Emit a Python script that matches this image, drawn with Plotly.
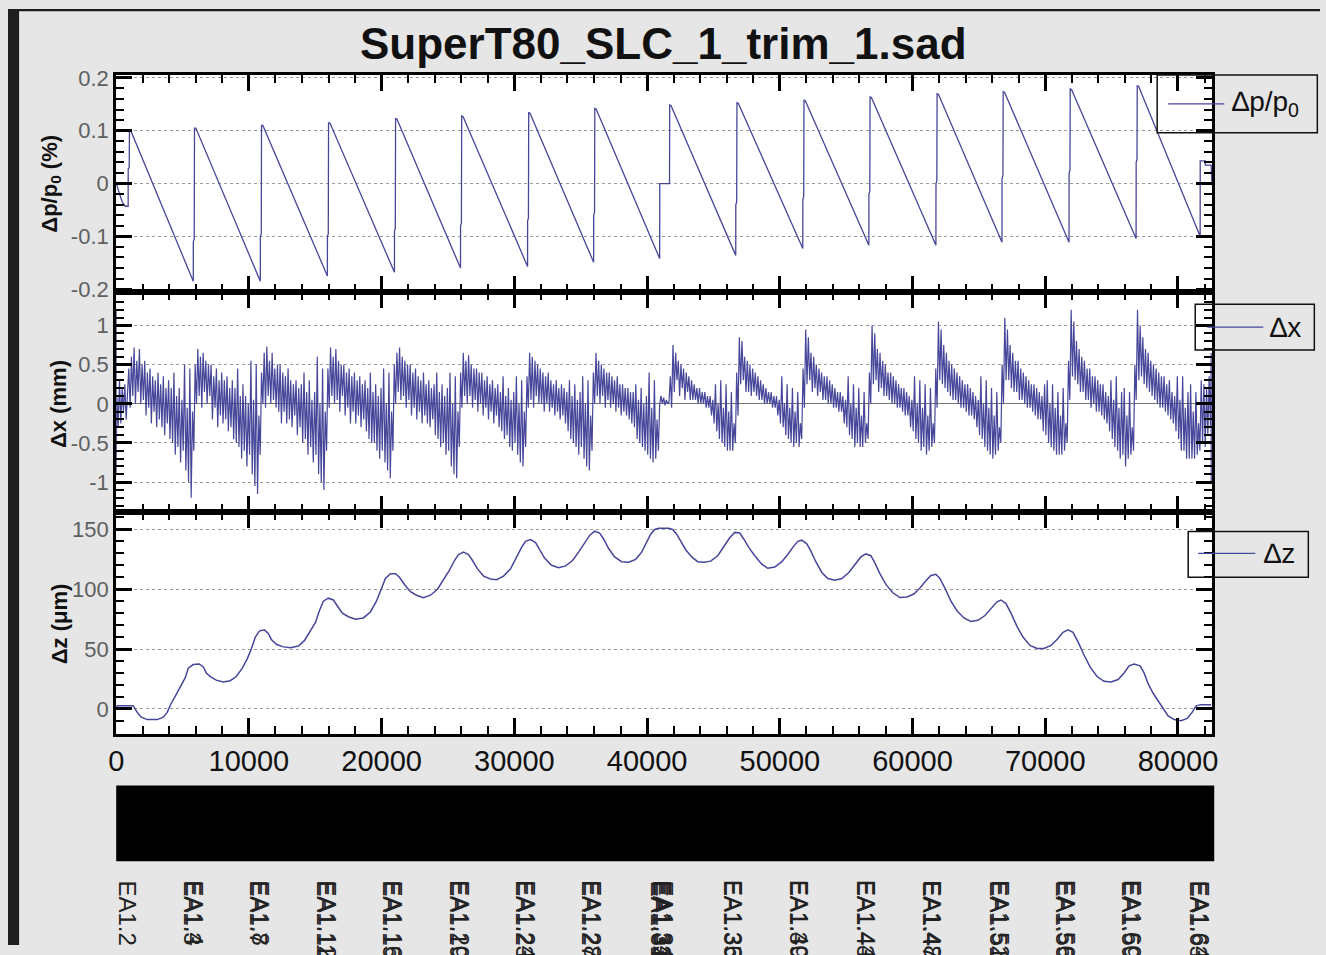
import plotly.graph_objects as go

W, H = 1326, 955
# the photographed page shows the figure after an 8 px page margin, slightly scaled;
# positions below are given in the reference picture's pixels and converted here
PAD, SX, SY = 8, 0.9885, 0.9834
TITLE = "SuperT80_SLC_1_trim_1.sad"

# ---------------- data ----------------
# Δp/p0 (%) vertices: s [m], value
DP_S = [0, 230, 450, 680, 900, 905, 980, 1000, 1100,
        5807, 5812, 5880, 5900, 6000,
        10859, 10864, 10930, 10950, 11050,
        15912, 15917, 15980, 16000, 16100,
        20964, 20969, 21030, 21050, 21150,
        25941, 25946, 26010, 26030, 26130,
        30994, 30999, 31060, 31080, 31180,
        35971, 35976, 36040, 36060, 36160,
        40948, 40953, 41690, 41702, 41800,
        46679, 46684, 46750, 46770, 46870,
        51731, 51736, 51800, 51820, 51920,
        56708, 56713, 56780, 56800, 56900,
        61761, 61766, 61830, 61850, 61950,
        66738, 66743, 66810, 66830, 66930,
        71790, 71795, 71860, 71880, 71980,
        76843, 76848, 76910, 76930, 77030,
        81669, 81674, 82050, 82060, 82500, 82560]
DP_V = [0, -0.02, -0.035, -0.043, -0.043, 0.028, 0.03, 0.10, 0.10,
        -0.185, -0.11, -0.105, 0.105, 0.105,
        -0.185, -0.10, -0.095, 0.110, 0.110,
        -0.175, -0.10, -0.095, 0.115, 0.115,
        -0.168, -0.09, -0.085, 0.123, 0.122,
        -0.160, -0.08, -0.075, 0.128, 0.127,
        -0.157, -0.07, -0.065, 0.134, 0.133,
        -0.149, -0.06, -0.055, 0.142, 0.141,
        -0.142, 0.0, 0.0, 0.149, 0.148,
        -0.136, -0.04, -0.035, 0.153, 0.152,
        -0.123, -0.03, -0.025, 0.158, 0.157,
        -0.117, -0.02, -0.015, 0.164, 0.163,
        -0.117, 0.0, 0.005, 0.170, 0.169,
        -0.111, 0.01, 0.015, 0.174, 0.173,
        -0.111, 0.02, 0.025, 0.179, 0.178,
        -0.104, 0.04, 0.045, 0.185, 0.184,
        -0.100, 0.043, 0.043, 0.035, 0.035, 0.0]

# Δz (μm) vertices: s [m], value
DZ_S = [0, 75, 1282, 1584, 1885, 2338, 3092, 3544, 3846, 4072, 4525, 4902, 5203, 5430,
        5807, 6259, 6561, 6787, 7089, 7541, 8069, 8597, 9049, 9502, 9879, 10180, 10482,
        10784, 11161, 11462, 11689, 12066, 12518, 13121, 13725, 14177, 14630, 15007,
        15308, 15610, 15987, 16364, 16666, 17043, 17495, 18023, 18626, 19154, 19607,
        19984, 20285, 20662, 21039, 21341, 21718, 22171, 22623, 23151, 23679, 24207,
        24659, 25112, 25489, 25790, 26167, 26544, 26846, 27223, 27675, 28203, 28656,
        29184, 29712, 30164, 30541, 30843, 31220, 31597, 31898, 32275, 32803, 33331,
        33859, 34387, 34839, 35292, 35669, 36046, 36423, 36725, 37102, 37554, 38082,
        38610, 39138, 39590, 39967, 40269, 40571, 40872, 41626, 41928, 42230, 42531,
        42908, 43361, 43813, 44266, 44794, 45321, 45774, 46226, 46603, 46980, 47282,
        47659, 48112, 48639, 49092, 49620, 50148, 50600, 50977, 51354, 51656, 52033,
        52335, 52712, 53164, 53617, 54144, 54672, 55200, 55653, 56105, 56482, 56859,
        57161, 57538, 57990, 58518, 59046, 59574, 60102, 60554, 61007, 61384, 61761,
        62062, 62439, 62892, 63344, 63872, 64400, 64928, 65456, 65908, 66361, 66662,
        67039, 67417, 67869, 68321, 68849, 69377, 69905, 70433, 70885, 71338, 71715,
        72092, 72469, 72921, 73374, 73902, 74430, 74958, 75485, 75938, 76315, 76692,
        77144, 77446, 77748, 78125, 78502, 78879, 79256, 79708, 80236, 80689, 81066,
        81367, 81744, 82499]
DZ_V = [0, 2.5, 2.5, -3, -7, -9, -9, -7, -3, 3, 12, 20, 26, 34,
        37, 37.5, 35, 30, 27, 24, 22.5, 23.5, 27, 34, 42, 50, 60,
        65, 66, 63, 58, 54, 52, 51, 52.5, 57, 65, 72,
        82, 90, 92.5, 91, 86, 80, 77, 75, 76, 81, 90,
        100, 109, 113, 113, 110, 104, 98, 95, 93, 95, 100,
        108, 116, 124, 129, 131, 129, 124, 117, 111, 108.5, 108,
        111, 117, 127, 135, 140, 141.5, 139, 133, 126, 120, 118,
        119.5, 124, 131, 139, 145, 148.5, 147, 142, 134, 127, 123,
        122.5, 125, 131, 139, 146, 150, 151, 151, 150, 146, 140,
        133, 127, 123, 122.5, 123.5, 128, 135, 143, 147.5, 147, 142,
        135, 128, 121, 117.5, 118.5, 123, 129, 135, 140, 141, 138,
        132, 123, 114, 109, 107.5, 109, 114, 121, 127, 129.5, 128,
        122, 113, 104, 97, 93, 93.5, 96, 101, 107, 111.5, 112.5,
        109, 101, 90, 82, 76, 73, 74, 78, 84, 89.5, 91,
        88, 80, 69, 60, 53, 50.5, 50.5, 53, 58, 64, 66,
        64, 56, 45, 35, 27, 23, 22.5, 24.5, 30, 36, 37.5,
        36, 30, 21, 13, 7, 0, -6, -9, -10, -8, -3,
        2.5, 3.5, 3.5]

# Δx (mm): samples every DX_STEP metres from DX_START, listed cell by cell
DX_START = 50
DX_STEP = 100
DX_EDGE_LEFT = [1.2, -0.9]     # values drawn at s = 0
DX_EDGE_RIGHT = [0.65, -1.0]   # values drawn at the ring end
DX_END_S = 82500
DX_PRE = [0.1, -0.3, 0.3, -0.25, 0.2, -0.1, 0.25, -0.2, 0.1]
DX_CELLS = [
    [0.45, -0.05, 0.6, 0.1, 0.72, 0.0, 0.55, 0.15, 0.7, 0.0, 0.5, 0.05,
     0.55, -0.15, 0.4, -0.05, 0.45, -0.25, 0.35, -0.1, 0.3, -0.3, 0.4, -0.2, 0.25, -0.3, 0.35, -0.4, 0.2, -0.25,
     0.3, -0.45, 0.2, -0.5, 0.4, -0.65, 0.1, -0.55, 0.2, -0.75, 0.05, -0.6,
     0.5, -0.85, -0.05, -1.0, 0.45, -1.2, -0.1, -0.6],
    [0.5, 0.0, 0.7, 0.1, 0.6, -0.05, 0.65, 0.15, 0.55, 0.0, 0.5, 0.1,
     0.5, -0.2, 0.35, -0.05, 0.45, -0.3, 0.3, -0.15, 0.4, -0.25, 0.3, -0.2, 0.35, -0.35, 0.2, -0.3, 0.3, -0.45,
     0.2, -0.5, 0.45, -0.55, 0.1, -0.7, 0.25, -0.6, 0.1, -0.8, 0.0, -0.65,
     0.55, -0.9, 0.05, -1.05, 0.5, -1.15, -0.15, -0.65],
    [0.4, 0.0, 0.65, -0.05, 0.73, 0.1, 0.55, 0.0, 0.65, 0.05, 0.45, -0.05,
     0.5, -0.1, 0.5, -0.25, 0.4, -0.1, 0.35, -0.25, 0.45, -0.2, 0.3, -0.3, 0.25, -0.15, 0.3, -0.4, 0.2, -0.3,
     0.25, -0.5, 0.4, -0.45, 0.15, -0.65, 0.3, -0.55, 0.05, -0.75, 0.15, -0.65,
     0.6, -0.9, 0.0, -1.0, 0.45, -1.1, -0.1, -0.6],
    [0.45, -0.05, 0.72, 0.1, 0.6, 0.0, 0.7, 0.05, 0.55, -0.1, 0.5, 0.1,
     0.5, -0.15, 0.4, -0.05, 0.45, -0.25, 0.35, -0.1, 0.4, -0.25, 0.3, -0.15, 0.35, -0.3, 0.25, -0.2, 0.3, -0.35,
     0.2, -0.45, 0.4, -0.5, 0.15, -0.5, 0.25, -0.6, 0.1, -0.7, 0.2, -0.6,
     0.45, -0.75, 0.0, -0.85, 0.4, -0.95, -0.1, -0.6],
    [0.5, 0.0, 0.65, 0.15, 0.72, 0.05, 0.6, 0.1, 0.55, -0.05, 0.5, 0.05,
     0.5, -0.15, 0.4, -0.05, 0.45, -0.2, 0.35, -0.1, 0.3, -0.25, 0.4, -0.15, 0.25, -0.25, 0.3, -0.3, 0.2, -0.2,
     0.25, -0.4, 0.4, -0.45, 0.15, -0.55, 0.25, -0.5, 0.1, -0.65, 0.2, -0.6,
     0.4, -0.8, 0.0, -0.9, 0.35, -0.95, -0.1, -0.55],
    [0.4, -0.05, 0.65, 0.1, 0.55, 0.0, 0.62, 0.1, 0.5, -0.05, 0.45, 0.05,
     0.45, -0.1, 0.4, 0.0, 0.4, -0.15, 0.3, -0.05, 0.35, -0.2, 0.25, -0.1, 0.3, -0.25, 0.2, -0.15, 0.25, -0.3,
     0.15, -0.35, 0.35, -0.45, 0.1, -0.4, 0.2, -0.55, 0.05, -0.6, 0.15, -0.5,
     0.35, -0.65, 0.0, -0.75, 0.3, -0.8, -0.1, -0.55],
    [0.35, -0.05, 0.65, 0.05, 0.6, -0.05, 0.55, 0.1, 0.5, 0.0, 0.45, 0.0,
     0.4, -0.1, 0.35, 0.0, 0.4, -0.1, 0.3, -0.05, 0.25, -0.15, 0.3, -0.1, 0.2, -0.2, 0.25, -0.15, 0.2, -0.25,
     0.15, -0.35, 0.3, -0.45, 0.1, -0.5, 0.25, -0.55, 0.05, -0.65, 0.15, -0.55,
     0.35, -0.7, 0.0, -0.8, 0.3, -0.85, -0.15, -0.6],
    [0.4, 0.0, 0.65, 0.1, 0.55, 0.0, 0.5, 0.1, 0.45, -0.05, 0.4, 0.05,
     0.4, -0.05, 0.35, 0.0, 0.3, -0.1, 0.35, -0.05, 0.25, -0.15, 0.25, -0.1, 0.2, -0.15, 0.2, -0.2, 0.15, -0.25,
     0.15, -0.3, 0.25, -0.45, 0.05, -0.5, 0.2, -0.55, 0.0, -0.6, 0.1, -0.65,
     0.4, -0.7, -0.05, -0.75, 0.3, -0.7, -0.2, -0.6],
    [0.0, 0.1, 0.0, 0.08, -0.02, 0.05, 0.0, 0.02],
    [0.35, -0.05, 0.75, 0.15, 0.65, 0.3, 0.55, 0.1, 0.5, 0.2, 0.45, 0.05,
     0.4, 0.15, 0.35, 0.05, 0.3, 0.05, 0.25, 0.05, 0.2, 0.0, 0.2, 0.0, 0.15, 0.0, 0.15, -0.05, 0.1, -0.05,
     0.1, -0.15, 0.05, -0.25, 0.25, -0.35, 0.0, -0.45, 0.3, -0.5, -0.05, -0.55,
     0.25, -0.6, -0.1, -0.6, 0.15, -0.6, -0.25, -0.5],
    [0.4, -0.15, 0.85, 0.25, 0.8, 0.3, 0.6, 0.15, 0.55, 0.15, 0.5, 0.1,
     0.45, 0.15, 0.4, 0.1, 0.35, 0.05, 0.3, 0.05, 0.25, 0.0, 0.2, 0.0, 0.15, 0.0, 0.15, -0.05, 0.1, -0.05,
     0.1, -0.15, 0.05, -0.25, 0.35, -0.3, 0.0, -0.4, 0.25, -0.45, -0.05, -0.5,
     0.2, -0.55, -0.1, -0.5, 0.15, -0.55, -0.25, -0.45],
    [0.45, -0.05, 0.95, 0.25, 0.85, 0.3, 0.65, 0.15, 0.6, 0.2, 0.5, 0.1,
     0.45, 0.15, 0.4, 0.05, 0.35, 0.05, 0.35, 0.0, 0.3, 0.0, 0.25, -0.05, 0.2, -0.05, 0.15, -0.1, 0.15, -0.1,
     0.1, -0.25, 0.05, -0.3, 0.35, -0.4, 0.0, -0.45, 0.25, -0.55, -0.05, -0.5,
     0.2, -0.55, -0.15, -0.55, 0.15, -0.5, -0.25, -0.45],
    [0.4, 0.0, 1.0, 0.25, 0.9, 0.3, 0.7, 0.15, 0.65, 0.2, 0.55, 0.1,
     0.5, 0.1, 0.4, 0.05, 0.4, 0.0, 0.35, 0.0, 0.3, -0.05, 0.25, -0.05, 0.2, -0.1, 0.2, -0.15, 0.15, -0.15,
     0.1, -0.3, 0.05, -0.35, 0.35, -0.45, 0.0, -0.5, 0.3, -0.6, -0.05, -0.55,
     0.25, -0.65, -0.15, -0.6, 0.2, -0.55, -0.25, -0.5],
    [0.45, -0.05, 1.05, 0.3, 0.95, 0.25, 0.75, 0.2, 0.65, 0.15, 0.55, 0.1,
     0.5, 0.05, 0.45, 0.05, 0.4, 0.0, 0.35, -0.05, 0.3, -0.05, 0.25, -0.1, 0.25, -0.15, 0.2, -0.15, 0.15, -0.2,
     0.1, -0.3, 0.05, -0.4, 0.35, -0.45, 0.0, -0.55, 0.3, -0.6, -0.05, -0.65,
     0.2, -0.7, -0.15, -0.65, 0.15, -0.6, -0.3, -0.5],
    [0.5, 0.0, 1.1, 0.3, 0.95, 0.3, 0.75, 0.2, 0.65, 0.15, 0.55, 0.15,
     0.55, 0.05, 0.45, 0.05, 0.4, 0.0, 0.35, -0.05, 0.3, -0.05, 0.25, -0.1, 0.25, -0.15, 0.2, -0.2, 0.15, -0.2,
     0.1, -0.35, 0.25, -0.4, 0.3, -0.5, 0.0, -0.55, 0.25, -0.6, -0.05, -0.65,
     0.15, -0.65, -0.15, -0.65, 0.2, -0.6, -0.25, -0.5],
    [0.55, 0.05, 1.2, 0.35, 1.05, 0.3, 0.8, 0.25, 0.7, 0.15, 0.6, 0.15,
     0.55, 0.05, 0.45, 0.05, 0.45, -0.05, 0.35, 0.0, 0.35, -0.1, 0.3, -0.1, 0.25, -0.15, 0.25, -0.2, 0.15, -0.25,
     0.1, -0.35, 0.3, -0.45, 0.05, -0.55, 0.35, -0.6, -0.05, -0.7, 0.15, -0.65,
     0.2, -0.8, -0.15, -0.7, 0.15, -0.65, -0.3, -0.6],
    [0.5, 0.05, 1.2, 0.3, 1.0, 0.35, 0.85, 0.25, 0.7, 0.2, 0.65, 0.15,
     0.55, 0.1, 0.5, 0.05, 0.45, 0.0, 0.4, -0.05, 0.35, -0.05, 0.35, -0.1, 0.25, -0.15, 0.3, -0.2, 0.15, -0.25,
     0.1, -0.35, 0.35, -0.45, 0.05, -0.6, 0.35, -0.6, -0.05, -0.7, 0.15, -0.7,
     0.25, -0.7, -0.1, -0.7, 0.15, -0.65, -0.25, -0.6],
]
DX_TAIL = [0.3, -0.5, 0.25, -0.55, 0.2, -0.4, 0.35, -0.3]

# axes
X_RANGE = [0, 82580]
X_TICKS = [0, 10000, 20000, 30000, 40000, 50000, 60000, 70000, 80000]
X_TICK_TEXT = ["0", "10000", "20000", "30000", "40000", "50000", "60000", "70000", "80000"]
Y1_RANGE = [-0.2057, 0.2057]
Y1_TICKS = [-0.2, -0.1, 0, 0.1, 0.2]
Y1_TEXT = ["-0.2", "-0.1", "0", "0.1", "0.2"]
Y2_RANGE = [-1.387, 1.425]
Y2_TICKS = [-1, -0.5, 0, 0.5, 1]
Y2_TEXT = ["-1", "-0.5", "0", "0.5", "1"]
Y3_RANGE = [-20.8, 164.2]
Y3_TICKS = [0, 50, 100, 150]
Y3_TEXT = ["0", "50", "100", "150"]

# lattice element labels (s [m] of each label, names stacked at that place)
LATTICE_S = [830, 5807, 10784, 15836, 20813, 25866, 30843, 35820, 41098,
             46453, 51430, 56482, 61459, 66512, 71489, 76466, 81594]
LATTICE_NAMES = [["EA1.2"], ["EA1.3", "EA1.4"], ["EA1.7", "EA1.8"], ["EA1.11", "EA1.12"],
                 ["EA1.15", "EA1.16"], ["EA1.19", "EA1.20"], ["EA1.23", "EA1.24"],
                 ["EA1.27", "EA1.28"], ["EA1.31", "EA1.32", "EA1.33", "EA1.34"],
                 ["EA1.35", "EA1.36"], ["EA1.39", "EA1.40"], ["EA1.43", "EA1.44"],
                 ["EA1.47", "EA1.48"], ["EA1.51", "EA1.52"], ["EA1.55", "EA1.56"],
                 ["EA1.59", "EA1.60"], ["EA1.63", "EA1.64"]]

# ---------------- figure ----------------
LINE = "#46469a"
FONT = "Liberation Sans, Arial, sans-serif"


def fx(px):
    # reference-picture pixel -> paper fraction
    return (px / SX - PAD) / W


def fy(py):
    return 1 - (py / SY - PAD) / H


dx_vals = list(DX_PRE)
for cell in DX_CELLS:
    dx_vals += cell
dx_vals += DX_TAIL
dx_s = [0, 0] + [DX_START + DX_STEP * k for k in range(len(dx_vals))] + [DX_END_S, DX_END_S]
dx_v = list(DX_EDGE_LEFT) + dx_vals + list(DX_EDGE_RIGHT)

fig = go.Figure()
fig.add_trace(go.Scatter(x=DP_S, y=DP_V, mode="lines", line=dict(color=LINE, width=1.3),
                         xaxis="x", yaxis="y", name="∆p/p0", showlegend=False))
fig.add_trace(go.Scatter(x=dx_s, y=dx_v, mode="lines", line=dict(color=LINE, width=1.2),
                         xaxis="x2", yaxis="y2", name="∆x", showlegend=False))
fig.add_trace(go.Scatter(x=DZ_S, y=DZ_V, mode="lines", line=dict(color=LINE, width=1.5),
                         xaxis="x3", yaxis="y3", name="∆z", showlegend=False))

xd = [fx(116), fx(1211)]
panels = [(74, 292), (292, 513), (513, 735)]


def xaxis_cfg(anchor, labels):
    return dict(domain=xd, anchor=anchor, range=X_RANGE, tickmode="array",
                tickvals=X_TICKS, ticktext=X_TICK_TEXT, showticklabels=labels,
                ticks="inside", ticklen=16, tickwidth=2.5, tickcolor="black",
                minor=dict(ticks="inside", ticklen=8, tickwidth=2, tickcolor="black",
                           tickmode="linear", tick0=0, dtick=2000, showgrid=False),
                showline=True, linewidth=3, linecolor="black", mirror="allticks",
                showgrid=False, zeroline=False,
                tickfont=dict(size=29, color="#111111", family=FONT))


def yaxis_cfg(anchor, pnl, rng, tv, tt, mdt, zl=False):
    return dict(domain=[fy(pnl[1]), fy(pnl[0])], anchor=anchor, range=rng,
                tickmode="array", tickvals=tv, ticktext=tt,
                ticks="inside", ticklen=16, tickwidth=2.5, tickcolor="black",
                minor=dict(ticks="inside", ticklen=8, tickwidth=2, tickcolor="black",
                           tickmode="linear", tick0=0, dtick=mdt, showgrid=False),
                showline=True, linewidth=3, linecolor="black", mirror="allticks",
                showgrid=True, gridcolor="#9a9a9a", griddash="dot", gridwidth=1,
                zeroline=zl, zerolinecolor="#777777", zerolinewidth=1,
                tickfont=dict(size=22, color="#606060", family=FONT))


fig.update_layout(
    width=W, height=H, autosize=False,
    margin=dict(l=0, r=0, t=0, b=0),
    paper_bgcolor="#e6e6e6", plot_bgcolor="white",
    font=dict(family=FONT),
    showlegend=False,
    xaxis=xaxis_cfg("y", False),
    xaxis2=xaxis_cfg("y2", False),
    xaxis3=xaxis_cfg("y3", True),
    yaxis=yaxis_cfg("x", panels[0], Y1_RANGE, Y1_TICKS, Y1_TEXT, 0.02),
    yaxis2=yaxis_cfg("x2", panels[1], Y2_RANGE, Y2_TICKS, Y2_TEXT, 0.1, zl=True),
    yaxis3=yaxis_cfg("x3", panels[2], Y3_RANGE, Y3_TICKS, Y3_TEXT, 10),
)

shapes = []
annotations = []
# dark surroundings of the window
shapes.append(dict(type="rect", xref="paper", yref="paper", x0=0, x1=fx(19), y0=0, y1=1,
                   fillcolor="#1e1e1e", line=dict(width=0), layer="below"))
shapes.append(dict(type="rect", xref="paper", yref="paper", x0=0, x1=1, y0=fy(10), y1=1,
                   fillcolor="#1e1e1e", line=dict(width=0), layer="below"))

# lattice bar
shapes.append(dict(type="rect", xref="paper", yref="paper", x0=fx(116), x1=fx(1213),
                   y0=fy(863), y1=fy(787), fillcolor="black", line=dict(width=0)))

# legends (box, sample line, label)
legends = [((1156, 1316, 74, 132), (1167, 1223, 103), 1229, "∆p/p<sub>0</sub>"),
           ((1194, 1313, 304, 350), (1206, 1262, 327), 1267, "∆x"),
           ((1187, 1307, 532, 578), (1197, 1254, 554), 1261, "∆z")]
for box, ln, tx, label in legends:
    shapes.append(dict(type="rect", xref="paper", yref="paper", x0=fx(box[0]), x1=fx(box[1]),
                       y0=fy(box[3]), y1=fy(box[2]), fillcolor="rgba(0,0,0,0)",
                       line=dict(color="#111111", width=1.5), layer="above"))
    shapes.append(dict(type="line", xref="paper", yref="paper", x0=fx(ln[0]), x1=fx(ln[1]),
                       y0=fy(ln[2]), y1=fy(ln[2]), line=dict(color=LINE, width=1.3),
                       layer="above"))
    annotations.append(dict(xref="paper", yref="paper", x=fx(tx), y=fy(ln[2]),
                            xanchor="left", yanchor="middle", showarrow=False,
                            text=label, font=dict(size=28, color="#111111", family=FONT)))

# title
annotations.append(dict(xref="paper", yref="paper", x=fx(663), y=fy(42),
                        xanchor="center", yanchor="middle", showarrow=False,
                        text="<b>" + TITLE + "</b>",
                        font=dict(size=44, color="#111111", family=FONT)))

# axis titles
for txt, cx, cy in [("<b>Δp/p<sub>0</sub> (%)</b>", 50, 183),
                    ("<b>Δx (mm)</b>", 59, 404),
                    ("<b>Δz (μm)</b>", 59, 625)]:
    annotations.append(dict(xref="paper", yref="paper", x=fx(cx), y=fy(cy),
                            xanchor="center", yanchor="middle", showarrow=False,
                            textangle=-90, text=txt,
                            font=dict(size=22, color="#111111", family=FONT)))

# lattice labels (rotated, overlapping names drawn with small offsets)
for s, names in zip(LATTICE_S, LATTICE_NAMES):
    n = len(names)
    for k, name in enumerate(names):
        off = (k - (n - 1) / 2) * 130
        annotations.append(dict(xref="x3", yref="paper", x=s + off, y=fy(880),
                                xanchor="center", yanchor="top", showarrow=False,
                                textangle=90, text=name,
                                font=dict(size=24, color="#222222", family=FONT)))

fig.update_layout(shapes=shapes, annotations=annotations)
fig.write_html("out.html")
